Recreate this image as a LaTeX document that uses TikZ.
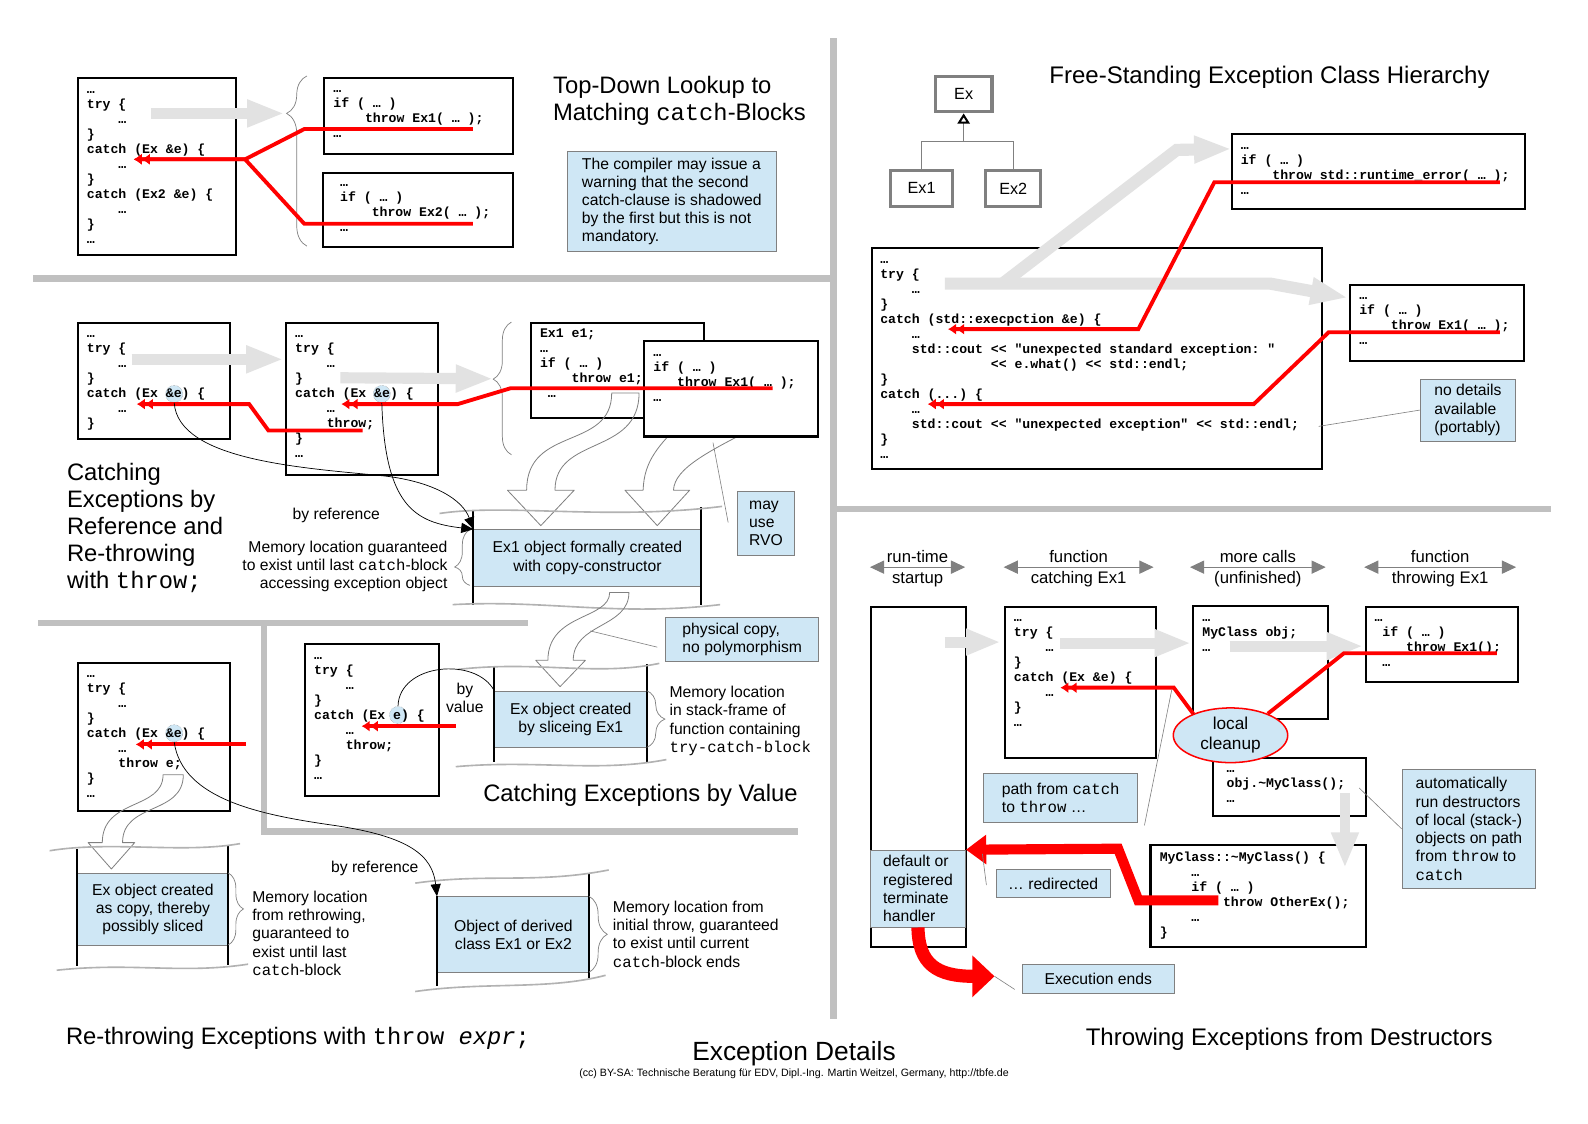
\documentclass[tikz,border=0pt]{standalone}
\usepackage{fontspec}
\setmainfont{Liberation Sans}
\setmonofont{Liberation Mono}
\usetikzlibrary{arrows.meta, calc, shapes.geometric, decorations.pathreplacing}

\definecolor{noteblue}{RGB}{207,231,245}
\definecolor{linegray}{RGB}{128,128,128}
\definecolor{flowgray}{RGB}{226,226,226}
\definecolor{sepgray}{RGB}{192,192,192}
\definecolor{wavegray}{RGB}{178,178,178}

\newcommand\codefont{\fontsize{13}{14.8}\selectfont\ttfamily\bfseries}
\newcommand\notefont{\fontsize{15.5}{18}\selectfont}
\newcommand\titlefont{\fontsize{23.5}{26.6}\selectfont}
\newcommand\headfont{\fontsize{16.5}{19}\selectfont}
\newcommand\qind{\phantom{0000}}

\begin{document}
\begin{tikzpicture}[x=1pt, y=-1pt,
    sepline/.style={draw=sepgray, line width=6pt},
    codebox/.style={draw, line width=2pt, fill=white, anchor=north west, inner sep=0pt},
    codetext/.style={font=\codefont, align=left, anchor=north west, inner sep=0pt},
    note/.style={draw=linegray, fill=noteblue, line width=0.8pt, font=\notefont, align=left, anchor=north west, inner sep=0pt},
    memcell/.style={note, align=center},
    memwall/.style={draw=black, line width=2pt},
    wave/.style={draw=wavegray, line width=1.6pt},
    flow/.style={draw=flowgray, line width=11pt, -{Triangle[length=37pt,width=25pt]}},
    hollow/.style={draw=linegray, line width=0.8pt, line join=round},
    throwpath/.style={draw=red, line width=3.8pt, -{Latex[length=8pt,width=11pt] Latex[length=8pt,width=11pt]}},
    refline/.style={draw=black, line width=0.7pt, -{Triangle[length=12pt,width=10pt]}},
    pointer/.style={draw=linegray, line width=0.6pt},
    gbrace/.style={draw=linegray, line width=0.7pt, decorate},
    refmark/.style={circle, draw=linegray, densely dotted, fill=noteblue, minimum size=17pt, inner sep=0pt},
    spanarrow/.style={draw=linegray, line width=1pt, {Triangle[length=14pt,width=13pt]}-{Triangle[length=14pt,width=13pt]}},
    classbox/.style={draw=linegray, line width=3pt, fill=white, inner sep=0pt, font=\fontsize{16}{18}\selectfont},
    heading/.style={font=\titlefont, align=left, inner sep=0pt},
    txt/.style={font=\notefont, inner sep=0pt},
  ]
  \fill[white] (0,0) rectangle (1568,1109);
  \useasboundingbox (0,0) rectangle (1568,1109);

  % separators
  \draw[sepline] (823,38) -- (823,1006);
  \draw[sepline] (33,275) -- (820,275);
  \draw[sepline] (826,503) -- (1531,503);
  \draw[sepline] (38,615) -- (521,615);
  \draw[sepline] (261,615) -- (261,821) -- (788,821);

  % top-down lookup
  \node[codebox, minimum width=156pt, minimum height=175pt] (lookTry) at (76,76) {};
  \node[codetext] (lookTryCode) at (85.6,81.4) {\strut{}…\\try \{\\\qind{}…\\\}\\catch (Ex \&e) \{\\\qind{}…\\\}\\catch (Ex2 \&e) \{\\\qind{}…\\\}\\…};
  \node[codebox, minimum width=187pt, minimum height=75pt] (lookOne) at (319,75.7) {};
  \node[codetext] (lookOneCode) at (329,81) {\strut{}…\\if ( … )\\\qind{}throw Ex1( … );\\…};
  \node[codebox, minimum width=188pt, minimum height=73pt] (lookTwo) at (317.6,170.2) {};
  \node[codetext] (lookTwoCode) at (335.7,173.5) {\strut{}…\\if ( … )\\\qind{}throw Ex2( … );\\…};
  \coordinate (lookTryOut) at (149,112);
  \coordinate (lookBrace) at (281,112);
  \draw[flow] (lookTryOut) -- (lookBrace);
  \draw[gbrace, decoration={brace, amplitude=20pt, aspect=0.78}] (303,243) -- (303,75);
  \coordinate (lookCatch) at (132,157.3);
  \coordinate (throwOne) at (467,127.4);
  \coordinate (throwTwo) at (467,221);
  \draw[throwpath] (throwOne) -- (300.5,127.4) -- (242,157.3) -- (lookCatch);
  \draw[throwpath] (throwTwo) -- (300.5,221) -- (242,157.3) -- (lookCatch);
  \node[heading, anchor=north west] (lookTitle) at (546,75.2) {Top-Down Lookup to\\Matching \texttt{catch}-Blocks};
  \node[note, minimum width=206pt, minimum height=99pt] (shadowNote) at (560,149) {The compiler may issue a\\warning that the second\\catch-clause is shadowed\\by the first but this is not\\mandatory.};

  % class hierarchy
  \node[heading, anchor=west, font=\fontsize{23.7}{27}\selectfont] (hierTitle) at (1036,76) {Free-Standing Exception Class Hierarchy};
  \node[classbox, minimum width=56pt, minimum height=35pt] (exBase) at (951.5,93) {Ex};
  \node[classbox, minimum width=61pt, minimum height=35pt] (exOne) at (910,186) {Ex1};
  \node[classbox, minimum width=54pt, minimum height=35pt] (exTwo) at (1000.5,186) {Ex2};
  \coordinate (hierJoin) at (951.5,140);
  \draw[linegray, line width=1pt] (exOne.north) |- (hierJoin) -| (exTwo.north);
  \draw[linegray, line width=1pt, -{Triangle[open, length=10pt, width=12pt, line width=2pt, color=black]}] (hierJoin) -- (exBase.south);

  \node[codebox, minimum width=290pt, minimum height=74pt] (rtThrowBox) at (1215,131) {};
  \node[codetext] (rtThrowCode) at (1225,137) {\strut{}…\\if ( … )\\\qind{}throw std::runtime\_error( … );\\…};
  \node[codebox, minimum width=444pt, minimum height=218pt] (stdBox) at (860,244) {};
  \node[codetext] (stdCode) at (869,249.4) {\strut{}…\\try \{\\\qind{}…\\\}\\catch (std::execpction \&e) \{\\\qind{}…\\\qind{}std::cout << "unexpected standard exception: "\\\phantom{00000000000000}<< e.what() << std::endl;\\\}\\catch (...) \{\\\qind{}…\\\qind{}std::cout << "unexpected exception" << std::endl;\\\}\\…};
  \node[codebox, minimum width=172pt, minimum height=75pt] (exThrowBox) at (1332,280) {};
  \node[codetext] (exThrowCode) at (1342,285.4) {\strut{}…\\if ( … )\\\qind{}throw Ex1( … );\\…};
  \coordinate (stdTry) at (933,280);
  \coordinate (exThrowIn) at (1331,294);
  \coordinate (rtThrowIn) at (1216,147);
  \draw[flow, line width=12pt] (stdTry) -- (1254,280) -- (exThrowIn);
  \draw[flow, line width=12pt] (990,280) -- (1162,148) -- (rtThrowIn);
  \coordinate (stdCatch) at (936,325);
  \coordinate (rtThrow) at (1481,180);
  \draw[throwpath] (rtThrow) -- (1199,180) -- (1124,325) -- (stdCatch);
  \coordinate (anyCatch) at (916,399);
  \coordinate (exThrow) at (1481,328);
  \draw[throwpath] (exThrow) -- (1312,328) -- (1238,399) -- (anyCatch);
  \node[note, minimum width=94pt, minimum height=61pt] (portNote) at (1402,374) {no details\\available\\(portably)};
  \coordinate (coutEnd) at (1302,421);
  \draw[pointer] (portNote.west) -- (coutEnd);

  % catching by reference, re-throwing
  \node[codebox, minimum width=150pt, minimum height=115pt] (refOuter) at (75.7,317.6) {};
  \node[refmark] (markA) at (172,389) {};
  \node[codetext] (refOuterCode) at (85.6,323) {\strut{}…\\try \{\\\qind{}…\\\}\\catch (Ex \&e) \{\\\qind{}…\\\}};
  \node[codebox, minimum width=150pt, minimum height=150pt] (refInner) at (281.4,317.6) {};
  \node[refmark] (markB) at (377,389) {};
  \node[codetext] (refInnerCode) at (291.3,323) {\strut{}…\\try \{\\\qind{}…\\\}\\catch (Ex \&e) \{\\\qind{}…\\\qind{}throw;\\\}\\…};
  \node[codebox, minimum width=171pt, minimum height=94pt] (objThrow) at (523,317.6) {};
  \node[codetext] (objThrowCode) at (533,323) {\strut{}Ex1 e1;\\…\\if ( … )\\\qind{}throw e1;\\\phantom{0}…};
  \draw[hollow] (604,388) -- (631,388) .. controls (631,450) and (548,430) .. (548,484) -- (567,484) -- (534,519) -- (501,484) -- (520,484) .. controls (520,420) and (604,445) .. (604,388) -- cycle;
  \draw[hollow] (675,415) -- (760,415) .. controls (700,445) and (666,462) .. (665,484) -- (681,484) -- (649,519) -- (617,484) -- (635,484) .. controls (636,455) and (650,440) .. (675,415) -- cycle;
  \node[codebox, minimum width=172pt, minimum height=94pt] (tmpThrow) at (635,336) {};
  \node[codetext] (tmpThrowCode) at (645,341.5) {\strut{}…\\if ( … )\\\phantom{000}throw Ex1( … );\\…};
  \coordinate (refOuterTry) at (130,354.8);
  \coordinate (refInnerIn) at (280,354.8);
  \draw[flow] (refOuterTry) -- (refInnerIn);
  \coordinate (refInnerTry) at (336,373);
  \coordinate (objBrace) at (487,374);
  \draw[flow] (refInnerTry) -- (objBrace);
  \draw[gbrace, decoration={brace, amplitude=18pt, aspect=0.57}] (505,449) -- (505,318);
  \coordinate (refCatchA) at (135,399);
  \coordinate (rethrowAt) at (358,425);
  \draw[throwpath] (rethrowAt) -- (265,425) -- (246,399) -- (refCatchA);
  \coordinate (refCatchB) at (337,399);
  \coordinate (tmpThrowAt) at (763,383.4);
  \draw[throwpath] (tmpThrowAt) -- (504,383.4) -- (452,399) -- (refCatchB);

  \node[memcell, minimum width=224.4pt, minimum height=56pt] (copyCell) at (467.4,522.6) {Ex1 object formally created\\with copy-constructor};
  \draw[memwall] (467.4,505) -- (467.4,597);
  \draw[memwall] (691.8,501) -- (691.8,597);
  \draw[wave] (434,507) .. controls (500,497) and (600,514) .. (713,500);
  \draw[wave] (447,597) .. controls (540,592) and (610,609) .. (711,597);
  \draw[gbrace, decoration={brace, amplitude=15pt, aspect=0.33}] (464,578) -- (464,523);
  \draw[refline] (markA.south) .. controls (176,455) and (300,462) .. (380,470) .. controls (430,476) and (457,494) .. (copyCell.north west);
  \draw[refline] (markB.south) .. controls (380,500) and (410,516) .. (copyCell.north west);
  \node[heading, anchor=north west] (refTitle) at (66,457.2) {Catching\\Exceptions by\\Reference and\\Re-throwing\\with \texttt{throw;}};
  \node[txt] (byRefA) at (332,508.5) {by reference};
  \node[txt, align=right, anchor=north east] (refLife) at (442,534) {Memory location guaranteed\\to exist until last \texttt{catch}-block\\accessing exception object};
  \node[note, minimum width=56pt, minimum height=63pt] (rvoNote) at (728,485) {may\\use\\RVO};
  \coordinate (rvoFrom) at (704,437);
  \coordinate (rvoPin) at (719,516);
  \draw[pointer] (rvoFrom) -- (rvoPin);
  \draw[hollow] (602,585) -- (621,585) .. controls (621,620) and (566,615) .. (566,652) -- (578,652) -- (553,678) -- (529,652) -- (541,652) .. controls (541,605) and (602,612) .. (602,585) -- cycle;
  \node[note, minimum width=151pt, minimum height=44pt] (physNote) at (657,609) {physical copy,\\no polymorphism};
  \coordinate (physFrom) at (649,639);
  \coordinate (physPin) at (583,623);
  \draw[pointer] (physFrom) -- (physPin);

  % catching by value
  \node[codebox, minimum width=132pt, minimum height=150pt] (valBox) at (300,635) {};
  \node[refmark] (markC) at (393,706) {};
  \node[codetext] (valCode) at (310,640.4) {\strut{}…\\try \{\\\qind{}…\\\}\\catch (Ex e) \{\\\qind{}…\\\qind{}throw;\\\}\\…};
  \coordinate (valCatch) at (357,717);
  \coordinate (valFrom) at (450,717);
  \draw[throwpath] (valFrom) -- (valCatch);
  \node[memcell, minimum width=150.5pt, minimum height=56pt] (sliceCell) at (488,682) {Ex object created\\by sliceing Ex1};
  \draw[memwall] (488,659) -- (488,752);
  \draw[memwall] (638.5,656) -- (638.5,752);
  \draw[wave] (452,661) .. controls (530,652) and (590,668) .. (651,655);
  \draw[wave] (450,757) .. controls (530,750) and (590,763) .. (658,750);
  \draw[gbrace, decoration={brace, amplitude=18pt}] (638.5,682) -- (638.5,738);
  \draw[black, line width=0.7pt] (markC.north) .. controls (394,655) and (470,648) .. (sliceCell.north west);
  \node[txt, align=center] (byValue) at (459,689) {by\\value};
  \node[txt, align=left, anchor=north west] (valLife) at (661,677.5) {Memory location\\in stack-frame of\\function containing\\\texttt{try-catch-block}};
  \node[heading, anchor=west] (valTitle) at (477,785) {Catching Exceptions by Value};

  % re-throwing with throw expr
  \node[codebox, minimum width=150pt, minimum height=146pt] (copyBox) at (75.7,653.3) {};
  \node[refmark] (markD) at (172,724) {};
  \node[codetext] (copyCode) at (85.6,658.7) {\strut{}…\\try \{\\\qind{}…\\\}\\catch (Ex \&e) \{\\\qind{}…\\\qind{}throw e;\\\}\\…};
  \coordinate (copyCatch) at (134,735);
  \coordinate (copyFrom) at (243,735);
  \draw[throwpath] (copyFrom) -- (copyCatch);
  \draw[hollow] (161,765) -- (181,765) .. controls (181,805) and (121,792) .. (121,832) -- (133,832) -- (110,858) -- (87,832) -- (101,832) .. controls (101,788) and (161,800) .. (161,765) -- cycle;
  \node[memcell, minimum width=149.7pt, minimum height=71pt] (slicedCell) at (75.7,862) {Ex object created\\as copy, thereby\\possibly sliced};
  \draw[memwall] (75.7,838) -- (75.7,954);
  \draw[memwall] (225.4,835) -- (225.4,953);
  \draw[wave] (49,840) .. controls (110,830) and (180,843) .. (237,833);
  \draw[wave] (56,958) .. controls (130,950) and (180,962) .. (245,952);
  \draw[gbrace, decoration={brace, amplitude=15pt}] (225.4,862) -- (225.4,933);
  \node[txt, align=left, anchor=north west] (copyLife) at (249,879.5) {Memory location\\from rethrowing,\\guaranteed to\\exist until last\\\texttt{catch}-block};
  \node[txt] (byRefB) at (370,857) {by reference};
  \node[memcell, minimum width=150pt, minimum height=75pt] (derivedCell) at (431.5,885) {Object of derived\\class Ex1 or Ex2};
  \draw[memwall] (431.5,885) -- (431.5,974);
  \draw[memwall] (581.6,862) -- (581.6,966);
  \draw[wave] (410,872) .. controls (480,862) and (530,873) .. (601,859);
  \draw[wave] (410,979) .. controls (480,969) and (540,978) .. (598,963);
  \draw[gbrace, decoration={brace, amplitude=18pt}] (581.6,885) -- (581.6,960);
  \node[txt, align=left, anchor=north west] (throwLife) at (605,889.5) {Memory location from\\initial throw, guaranteed\\to exist until current\\\texttt{catch}-block ends};
  \draw[refline] (markD.south) .. controls (180,790) and (260,805) .. (330,815) .. controls (405,826) and (427,845) .. (derivedCell.north west);
  \node[heading, anchor=west] (copyTitle) at (65,1025) {Re-throwing Exceptions with \texttt{throw \textit{expr};}};

  % throwing from destructors
  \foreach \xa/\xb/\key/\upper/\lower in {859/953/start/run-time/startup, 991/1139/catch/function/catching Ex1, 1175/1309/more/more calls/(unfinished), 1347/1497/throw/function/throwing Ex1} {
    \coordinate (\key-l) at (\xa,560);
    \coordinate (\key-r) at (\xb,560);
    \draw[spanarrow] (\key-l) -- (\key-r);
    \node[txt, font=\headfont, anchor=base] (\key-up) at ($(\key-l)!0.5!(\key-r) + (0,-4.5)$) {\upper};
    \node[txt, font=\headfont, anchor=base] (\key-low) at ($(\key-l)!0.5!(\key-r) + (0,16.5)$) {\lower};
  }
  \node[codebox, minimum width=94pt, minimum height=336pt] (startupBox) at (859,598) {};
  \node[note, minimum width=94pt, minimum height=76pt] (termCell) at (859,839) {default or\\registered\\terminate\\handler};
  \node[codebox, minimum width=149pt, minimum height=149pt] (catchBox) at (991,598) {};
  \node[codetext] (catchCode) at (1001,603.4) {\strut{}…\\try \{\\\qind{}…\\\}\\catch (Ex \&e) \{\\\qind{}…\\\}\\…};
  \node[codebox, minimum width=133pt, minimum height=112pt] (callsBox) at (1177,597) {};
  \node[codetext] (callsCode) at (1187,603.4) {\strut{}…\\MyClass obj;\\…};
  \node[codebox, minimum width=150pt, minimum height=74pt] (throwBox) at (1348,598) {};
  \node[codetext] (throwCode) at (1357,603.4) {\strut{}…\\\phantom{0}if ( … )\\\qind{}throw Ex1();\\\phantom{0}…};
  \node[codebox, minimum width=151pt, minimum height=58pt] (dtorCallBox) at (1197,747) {};
  \node[codetext] (dtorCallCode) at (1211,752.5) {\strut{}…\\obj.\textasciitilde{}MyClass();\\…};
  \node[codebox, minimum width=213pt, minimum height=101pt] (dtorBox) at (1135,833) {};
  \node[codetext] (dtorCode) at (1145,840) {\strut{}MyClass::\textasciitilde{}MyClass() \{\\\qind{}…\\\qind{}if ( … )\\\qind\qind{}throw OtherEx();\\\qind{}…\\\}};

  \coordinate (bootOut) at (933,634);
  \coordinate (catchIn) at (988,634);
  \draw[flow, -{Triangle[length=34pt,width=24pt]}] (bootOut) -- (catchIn);
  \coordinate (catchOut) at (1047,635);
  \coordinate (callsIn) at (1176,635);
  \draw[flow, -{Triangle[length=36pt,width=25pt]}] (catchOut) -- (callsIn);
  \coordinate (callsOut) at (1214,638);
  \coordinate (throwIn) at (1346,638);
  \draw[flow, -{Triangle[length=36pt,width=25pt]}] (callsOut) -- (throwIn);
  \coordinate (dtorCallOut) at (1328,783);
  \coordinate (dtorIn) at (1328,857);
  \draw[flow, line width=10pt, -{Triangle[length=35pt,width=25pt]}] (dtorCallOut) -- (dtorIn);

  \node[ellipse, draw=red, line width=1.5pt, fill=noteblue, minimum width=113pt, minimum height=54pt, inner sep=0pt, font=\fontsize{17}{20}\selectfont, align=center] (cleanup) at (1215,726) {local\\cleanup};
  \coordinate (unwindFrom) at (1478,645);
  \draw[red, line width=3.8pt] (unwindFrom) -- (1327,645) -- (cleanup.30);
  \coordinate (unwindTo) at (1047,679);
  \draw[throwpath] (cleanup.150) -- (1159,679) -- (unwindTo);

  \coordinate (redirFrom) at (1203,889);
  \draw[red, line width=10pt, -{Triangle[length=20pt,width=28pt]}] (redirFrom) -- (1124,889) -- (1104,838) -- (termCell.north east);
  \coordinate (haltTip) at (982,964);
  \draw[red, line width=13pt, -{Triangle[length=22pt,width=40pt]}] (termCell.south) .. controls (907,952) and (925,964) .. (haltTip);

  \node[note, minimum width=150pt, minimum height=28pt] (endNote) at (1009,952) {Execution ends};
  \coordinate (haltPin) at (1002,977);
  \draw[pointer] (haltTip) -- (haltPin);
  \node[note, minimum width=113pt, minimum height=28pt] (redirNote) at (983,858) {… redirected};
  \coordinate (redirTip) at (970,843);
  \coordinate (redirPin) at (974,874);
  \draw[pointer] (redirTip) -- (redirPin);
  \node[note, minimum width=152pt, minimum height=49pt] (pathNote) at (971,763) {path from \texttt{catch}\\to \texttt{throw} …};
  \coordinate (pathPin) at (1130,815);
  \coordinate (pathBend) at (1157,681);
  \draw[pointer] (pathPin) -- (pathBend);
  \node[note, minimum width=132pt, minimum height=118pt] (autoNote) at (1384,759) {automatically\\run destructors\\of local (stack-)\\objects on path\\from \texttt{throw} to\\\texttt{catch}};
  \coordinate (dtorCallEnd) at (1342,778);
  \draw[pointer] (dtorCallEnd) -- (autoNote.west);
  \node[heading, font=\fontsize{23.7}{27}\selectfont] (dtorTitle) at (1273,1026) {Throwing Exceptions from Destructors};

  \node[font=\fontsize{26}{30}\selectfont, inner sep=0pt] (mainTitle) at (784,1040) {Exception Details};
  \node[font=\fontsize{10.5}{12}\selectfont, inner sep=0pt] (footer) at (784,1060) {(cc) BY-SA: Technische Beratung für EDV, Dipl.-Ing. Martin Weitzel, Germany, http://tbfe.de};
\end{tikzpicture}
\end{document}
